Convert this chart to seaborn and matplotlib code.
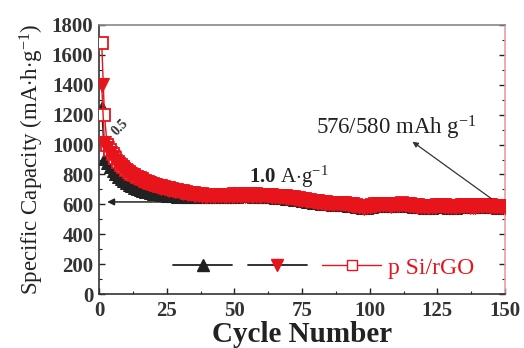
import numpy as np
import pandas as pd
import matplotlib
matplotlib.use("Agg")
import matplotlib.pyplot as plt
import seaborn as sns
from matplotlib.lines import Line2D
from matplotlib.ticker import MultipleLocator

cycles = list(range(1, 151))

cap_black = [
    1250, 905, 875, 848, 824, 803, 785, 769, 755, 742,
    731, 721, 712, 704, 697, 691, 685, 680, 676, 672,
    669, 666, 663, 661, 659, 657, 655, 653, 652, 651,
    650, 649, 648, 648, 647, 647, 647, 647, 648, 648,
    648, 648, 649, 649, 650, 650, 651, 651, 652, 652,
    652, 653, 653, 653, 653, 653, 652, 652, 651, 650,
    649, 648, 647, 646, 645, 644, 643, 641, 639, 637,
    635, 632, 629, 626, 623, 620, 617, 614, 611, 608,
    606, 604, 602, 600, 599, 598, 597, 596, 595, 594,
    594, 592, 590, 587, 583, 579, 576, 574, 576, 580,
    584, 587, 590, 591, 592, 591, 589, 587, 588, 590,
    592, 593, 592, 590, 587, 584, 582, 580, 579, 578,
    577, 576, 577, 579, 581, 583, 582, 580, 578, 577,
    576, 577, 579, 581, 583, 582, 580, 579, 580, 582,
    584, 585, 584, 582, 580, 579, 577, 576, 577, 578,
]

cap_red_tri = [
    1400, 1010, 975, 945, 915, 890, 868, 850, 834, 820,
    806, 795, 784, 774, 765, 757, 749, 742, 735, 729,
    723, 717, 712, 707, 702, 698, 694, 690, 686, 682,
    678, 674, 671, 668, 665, 662, 660, 658, 656, 655,
    654, 654, 654, 655, 655, 656, 656, 657, 657, 658,
    658, 659, 659, 659, 659, 659, 658, 658, 657, 656,
    655, 654, 653, 652, 651, 650, 649, 647, 645, 643,
    641, 638, 635, 632, 629, 626, 623, 620, 617, 614,
    612, 609, 607, 605, 604, 603, 603, 602, 601, 600,
    599, 597, 595, 592, 588, 584, 580, 578, 580, 584,
    588, 591, 594, 596, 597, 596, 594, 592, 593, 595,
    597, 598, 597, 595, 592, 589, 587, 585, 584, 583,
    582, 581, 582, 584, 586, 588, 587, 585, 583, 582,
    581, 582, 584, 586, 588, 587, 585, 584, 585, 587,
    589, 590, 589, 587, 585, 584, 582, 581, 582, 583,
]

cap_red_sq = [
    1680, 1200, 1000, 965, 935, 908, 884, 864, 847, 832,
    818, 806, 795, 785, 776, 767, 759, 752, 745, 738,
    732, 726, 720, 715, 710, 706, 702, 698, 694, 690,
    686, 682, 679, 676, 673, 670, 668, 666, 664, 663,
    662, 662, 662, 663, 663, 664, 664, 665, 665, 666,
    666, 667, 667, 667, 667, 667, 666, 666, 665, 664,
    663, 662, 661, 660, 659, 658, 657, 655, 653, 651,
    649, 646, 643, 640, 637, 634, 631, 628, 625, 622,
    620, 617, 615, 613, 612, 611, 611, 610, 609, 608,
    607, 605, 603, 600, 596, 592, 588, 586, 588, 592,
    596, 599, 602, 604, 605, 604, 602, 600, 601, 603,
    605, 606, 605, 603, 600, 597, 595, 593, 592, 591,
    590, 589, 590, 592, 594, 596, 595, 593, 591, 590,
    589, 590, 592, 594, 596, 595, 593, 592, 593, 595,
    597, 598, 597, 595, 593, 592, 590, 589, 590, 591,
]

legend_label = "p Si/rGO"

sns.set_theme(style="ticks")
plt.rcParams["font.family"] = ["Liberation Serif", "DejaVu Serif"]
plt.rcParams["mathtext.fontset"] = "custom"
plt.rcParams["mathtext.rm"] = "Liberation Serif"
plt.rcParams["mathtext.bf"] = "Liberation Serif:bold"
plt.rcParams["mathtext.it"] = "Liberation Serif:italic"

RED = "#e8141c"
DARK = "#222222"
PINK = "#e8a0a0"

fig = plt.figure(figsize=(5.24, 3.48), dpi=100)
ax = fig.add_axes([99 / 524, 1 - 294 / 348, 406 / 524, 269 / 348])

df = pd.DataFrame({"cycle": cycles, "black": cap_black,
                   "tri": cap_red_tri, "sq": cap_red_sq})

sns.lineplot(data=df, x="cycle", y="black", ax=ax, color=DARK, lw=1,
             marker="^", markersize=9, markeredgecolor=DARK,
             markerfacecolor=DARK, legend=False, zorder=2)
sns.lineplot(data=df, x="cycle", y="sq", ax=ax, color=RED, lw=1,
             marker="s", markersize=8.5, markeredgecolor=RED,
             markerfacecolor="white", markeredgewidth=1.3,
             legend=False, zorder=3)
sns.lineplot(data=df, x="cycle", y="tri", ax=ax, color=RED, lw=1,
             marker="v", markersize=10, markeredgecolor=RED,
             markerfacecolor=RED, legend=False, zorder=4)

ax.set_xlim(0, 150)
ax.set_ylim(0, 1800)
ax.xaxis.set_major_locator(MultipleLocator(25))
ax.xaxis.set_minor_locator(MultipleLocator(12.5))
ax.yaxis.set_major_locator(MultipleLocator(200))
ax.yaxis.set_minor_locator(MultipleLocator(100))
ax.tick_params(which="both", direction="in", right=True, top=False,
               colors=DARK)
ax.tick_params(which="major", length=4, width=1, labelsize=15)
ax.tick_params(axis="x", which="major", pad=5)
ax.tick_params(axis="y", which="major", pad=4)
ax.tick_params(which="minor", length=2, width=0.8)
for lab in ax.get_xticklabels() + ax.get_yticklabels():
    lab.set_fontweight("bold")
    lab.set_color("#333333")
for tk in ax.yaxis.get_major_ticks() + ax.yaxis.get_minor_ticks():
    tk.tick2line.set_color(PINK)

for side in ["left", "bottom"]:
    ax.spines[side].set_color("#333333")
    ax.spines[side].set_linewidth(1.2)
ax.spines["top"].set_color("#888888")
ax.spines["right"].set_color(PINK)
ax.spines["top"].set_linewidth(1.2)
ax.spines["right"].set_linewidth(1.2)

ax.set_xlabel("Cycle Number", fontsize=21, fontweight="bold",
              color="#222222", labelpad=0)
ax.set_ylabel(r"Specific Capacity (mA$\cdot$h$\cdot$g$^{-1}$)", fontsize=16.5,
              color="#222222", labelpad=4)

# annotations
ax.text(4, 1040, "0.5", rotation=45, fontsize=10, fontweight="bold",
        color="#333333", ha="left", va="bottom", zorder=6)
ax.text(70, 785, r"$\mathbf{1.0}$ A$\cdot$g$^{-1}$", fontsize=15,
        color="#222222", ha="center", va="center", zorder=6)
ax.text(110, 1111, r"576/580 mAh g$^{-1}$", fontsize=16.5,
        color="#222222", ha="center", va="center")
ax.annotate("", xy=(115, 1030), xytext=(147.5, 605),
            arrowprops=dict(arrowstyle="-|>", color="#333333", lw=0.9,
                            mutation_scale=8))
ax.annotate("", xy=(2, 616), xytext=(32, 616),
            arrowprops=dict(arrowstyle="-|>", color="#222222", lw=1.1,
                            mutation_scale=10))

handles = [
    Line2D([], [], color=DARK, lw=1.3, marker="^", markersize=8,
           markerfacecolor=DARK, markeredgecolor=DARK),
    Line2D([], [], color=DARK, lw=1.3, marker="v", markersize=8,
           markerfacecolor=RED, markeredgecolor=RED),
    Line2D([], [], color=RED, lw=1, marker="s", markersize=6.5,
           markerfacecolor="white", markeredgecolor=RED),
]
leg = ax.legend(handles, ["", "", legend_label], ncol=3, frameon=False,
                loc="center left", bbox_to_anchor=(0.16, 0.097),
                handlelength=2.5, handletextpad=0.3, columnspacing=0.35,
                fontsize=17, borderaxespad=0)
leg.get_texts()[2].set_color(RED)

fig.savefig("out.png", dpi=100, facecolor="white")
